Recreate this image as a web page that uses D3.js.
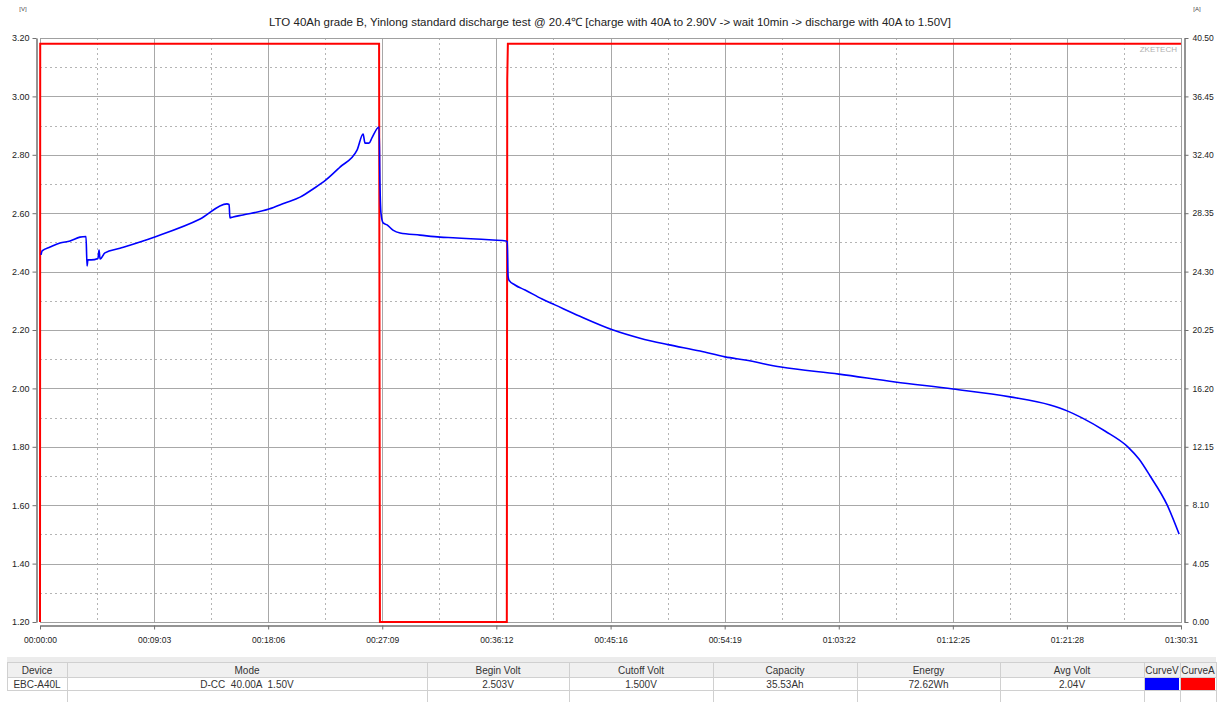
<!DOCTYPE html>
<html>
<head>
<meta charset="utf-8">
<script src="https://cdn.jsdelivr.net/npm/d3@7"></script>
<style>
  body { margin: 0; background: #fff }
  svg text { font-family: "Liberation Sans", Arial, sans-serif }
</style>
</head>
<body>
<svg id="chart" width="1217" height="702"></svg>
<script>
const chartTitle =
  "LTO 40Ah grade B, Yinlong standard discharge test @ 20.4\u2103 [charge with 40A to 2.90V -> wait 10min -> discharge with 40A to 1.50V]"

const timeLabels = ["00:00:00", "00:09:03", "00:18:06", "00:27:09", "00:36:12", "00:45:16",
  "00:54:19", "01:03:22", "01:12:25", "01:21:28", "01:30:31"]
const voltTicks = [1.2, 1.4, 1.6, 1.8, 2.0, 2.2, 2.4, 2.6, 2.8, 3.0, 3.2]
const ampTicks = [0, 4.05, 8.1, 12.15, 16.2, 20.25, 24.3, 28.35, 32.4, 36.45, 40.5]

// voltage curve (seconds, volts)
const voltSeconds = [5, 10, 48, 95, 143, 190, 219, 224, 228, 243, 276, 281, 286, 309, 381,
  543, 762, 890, 900, 904, 919, 966, 1090, 1166, 1238, 1300, 1361, 1428, 1509, 1538, 1547,
  1566, 1580, 1614, 1618, 1623, 1633, 1652, 1680, 1714, 1809, 1904, 1966, 2156, 2218, 2224,
  2228, 2232, 2261, 2309, 2390, 2451, 2570, 2728, 2856, 2989, 3142, 3261, 3356, 3527, 3803,
  4070, 4346, 4617, 4808, 4889, 4960, 5069, 5179, 5231, 5284, 5365, 5422]
const voltValues = [2.457, 2.471, 2.484, 2.498, 2.505, 2.518, 2.520, 2.419, 2.440, 2.440,
  2.445, 2.474, 2.443, 2.464, 2.480, 2.518, 2.580, 2.632, 2.630, 2.584, 2.587, 2.594, 2.614,
  2.635, 2.655, 2.683, 2.714, 2.758, 2.816, 2.871, 2.840, 2.840, 2.858, 2.895, 2.707, 2.600,
  2.567, 2.560, 2.542, 2.532, 2.525, 2.518, 2.516, 2.508, 2.505, 2.503, 2.385, 2.371, 2.354,
  2.337, 2.306, 2.286, 2.247, 2.200, 2.172, 2.150, 2.128, 2.108, 2.097, 2.073, 2.049, 2.022,
  1.998, 1.971, 1.943, 1.923, 1.899, 1.854, 1.799, 1.758, 1.700, 1.601, 1.501]

// current curve (seconds, amps)
const ampSeconds = [0, 1, 1614, 1618, 2222, 2224, 2227, 5431]
const ampValues = [0, 40.1, 40.1, 0, 0, 37.6, 40.1, 40.1]

const tableHeaders = ["Device", "Mode", "Begin Volt", "Cutoff Volt", "Capacity", "Energy", "Avg Volt", "CurveV", "CurveA"]
const tableValues = ["EBC-A40L", "D-CC  40.00A  1.50V", "2.503V", "1.500V", "35.53Ah", "72.62Wh", "2.04V", "", ""]
const curveColors = ["#0000ff", "#ff0000"]

// layout
const plot = { left: 40, right: 1181, top: 38, bottom: 622 }
const colEdges = [7, 67, 427, 569, 713, 857, 1000, 1144, 1180, 1216]

const svg = d3.select("#chart")

function toSeconds(label) {
  const p = label.split(":").map(Number)
  return p[0] * 3600 + p[1] * 60 + p[2]
}
const timeTicks = timeLabels.map(toSeconds)

const x = d3.scaleLinear().domain([0, 5431]).range([plot.left, plot.right])
const yV = d3.scaleLinear().domain([1.2, 3.2]).range([plot.bottom, plot.top])
const yA = d3.scaleLinear().domain([0, 40.5]).range([plot.bottom, plot.top])

const mids = arr => arr.slice(1).map((d, i) => (d + arr[i]) / 2)

// grid
const grid = svg.append("g")
grid.selectAll(".hmid").data(mids(voltTicks)).enter().append("line")
  .attr("x1", plot.left).attr("x2", plot.right)
  .attr("y1", d => Math.round(yV(d)) + 0.5).attr("y2", d => Math.round(yV(d)) + 0.5)
  .attr("stroke", "#b4b4b4").attr("stroke-dasharray", "2,3")
grid.selectAll(".vmid").data(mids(timeTicks)).enter().append("line")
  .attr("y1", plot.top).attr("y2", plot.bottom)
  .attr("x1", d => Math.round(x(d)) + 0.5).attr("x2", d => Math.round(x(d)) + 0.5)
  .attr("stroke", "#b4b4b4").attr("stroke-dasharray", "2,3")
grid.selectAll(".hmaj").data(voltTicks).enter().append("line")
  .attr("x1", plot.left).attr("x2", plot.right)
  .attr("y1", d => Math.round(yV(d)) + 0.5).attr("y2", d => Math.round(yV(d)) + 0.5)
  .attr("stroke", "#a8a8a8")
grid.selectAll(".vmaj").data(timeTicks).enter().append("line")
  .attr("y1", plot.top).attr("y2", plot.bottom)
  .attr("x1", d => Math.round(x(d)) + 0.5).attr("x2", d => Math.round(x(d)) + 0.5)
  .attr("stroke", "#a8a8a8")

svg.append("rect")
  .attr("x", plot.left + 0.5).attr("y", plot.top + 0.5)
  .attr("width", plot.right - plot.left).attr("height", plot.bottom - plot.top)
  .attr("fill", "none").attr("stroke", "#a0a0a0")

// axes
function styleAxis(g, size) {
  g.attr("font-family", null).attr("font-size", null)
  g.select(".domain").attr("stroke", "#707070").attr("stroke-width", 1.5)
  g.selectAll(".tick line").attr("stroke", "#707070")
  g.selectAll(".tick text").attr("fill", "#222").style("font-size", size + "px")
}

svg.append("g")
  .attr("transform", "translate(36.5,0)")
  .call(d3.axisLeft(yV).tickValues(voltTicks).tickFormat(d3.format(".2f"))
    .tickSize(4).tickSizeOuter(0).tickPadding(3))
  .call(g => styleAxis(g, 9))

svg.append("g")
  .attr("transform", "translate(1184.5,0)")
  .call(d3.axisRight(yA).tickValues(ampTicks).tickFormat(d3.format(".2f"))
    .tickSize(4).tickSizeOuter(0).tickPadding(4))
  .call(g => styleAxis(g, 8.5))

svg.append("g")
  .attr("transform", "translate(0,625.5)")
  .call(d3.axisBottom(x).tickValues(timeTicks).tickFormat((d, i) => timeLabels[i])
    .tickSize(4).tickSizeOuter(0).tickPadding(7))
  .call(g => styleAxis(g, 8.5))

// curves
const ampLine = d3.line().x(d => x(d[0])).y(d => yA(d[1]))
const voltLine = d3.line().x(d => x(d[0])).y(d => yV(d[1])).curve(d3.curveMonotoneX)

svg.append("path")
  .datum(d3.zip(ampSeconds, ampValues))
  .attr("d", ampLine)
  .attr("fill", "none").attr("stroke", "#ff0000").attr("stroke-width", 2)

svg.append("path")
  .datum(d3.zip(voltSeconds, voltValues))
  .attr("d", voltLine)
  .attr("fill", "none").attr("stroke", "#0000ff").attr("stroke-width", 1.6)
  .attr("stroke-linejoin", "round")

// texts
svg.append("text")
  .attr("x", 610).attr("y", 26)
  .attr("text-anchor", "middle")
  .style("font-size", "11.5px").attr("fill", "#222")
  .text(chartTitle)

svg.append("text").attr("x", 23).attr("y", 11).attr("text-anchor", "middle")
  .style("font-size", "6px").attr("fill", "#444").text("[V]")
svg.append("text").attr("x", 1197).attr("y", 11).attr("text-anchor", "middle")
  .style("font-size", "6px").attr("fill", "#444").text("[A]")

svg.append("text").attr("x", 1177).attr("y", 52).attr("text-anchor", "end")
  .style("font-size", "8px").attr("fill", "#b0b0b0").text("ZKETECH")

// info table
const table = svg.append("g")
table.append("rect").attr("x", 7).attr("y", 657).attr("width", 1209).attr("height", 5).attr("fill", "#ececec")
table.append("rect").attr("x", 7).attr("y", 662).attr("width", 1209).attr("height", 15).attr("fill", "#f0f0f0")

const cols = tableHeaders.map((h, i) => ({ h, v: tableValues[i], x0: colEdges[i], x1: colEdges[i + 1] }))

table.selectAll(".swatch").data(curveColors).enter().append("rect")
  .attr("x", (d, i) => colEdges[7 + i]).attr("y", 677.5)
  .attr("width", (d, i) => colEdges[8 + i] - colEdges[7 + i] - 1).attr("height", 12.5)
  .attr("fill", d => d)

;[662.5, 677.5, 690.5].forEach(y => {
  table.append("line").attr("x1", 7).attr("x2", 1216).attr("y1", y).attr("y2", y).attr("stroke", "#d0d0d0")
})
colEdges.forEach((cx, i) => {
  table.append("line")
    .attr("x1", cx + 0.5).attr("x2", cx + 0.5)
    .attr("y1", 662).attr("y2", i === 0 ? 690 : 702)
    .attr("stroke", "#d0d0d0")
})

table.selectAll(".hdr").data(cols).enter().append("text")
  .attr("x", d => (d.x0 + d.x1) / 2).attr("y", 673.5)
  .attr("text-anchor", "middle").style("font-size", "10px").attr("fill", "#333")
  .text(d => d.h)

table.selectAll(".val").data(cols).enter().append("text")
  .attr("x", d => (d.x0 + d.x1) / 2).attr("y", 687.5)
  .attr("text-anchor", "middle").style("font-size", "10px").style("white-space", "pre")
  .attr("fill", "#333")
  .text(d => d.v)
</script>
</body>
</html>
